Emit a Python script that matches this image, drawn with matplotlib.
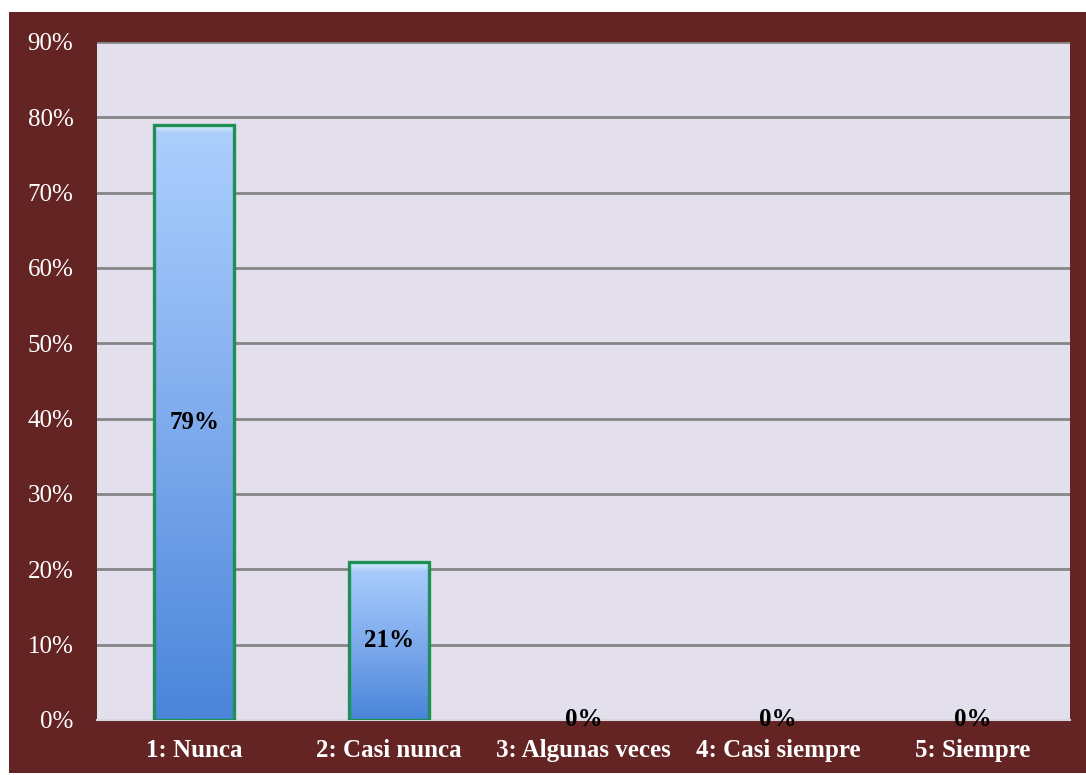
import matplotlib.pyplot as plt
import numpy as np
from matplotlib.patches import Rectangle
from matplotlib.colors import LinearSegmentedColormap

categories = ['1: Nunca', '2: Casi nunca', '3: Algunas veces', '4: Casi siempre', '5: Siempre']
values = [79, 21, 0, 0, 0]
labels = ['79%', '21%', '0%', '0%', '0%']
yticks = [0, 10, 20, 30, 40, 50, 60, 70, 80, 90]

W, H = 1086, 775
fig = plt.figure(figsize=(W / 100, H / 100), dpi=100)
fig.patch.set_facecolor('white')
serif = 'Liberation Serif'

# marco granate
fig.add_artist(Rectangle((9 / W, 2 / H), 1 - 9 / W, (773 - 12) / H,
                         transform=fig.transFigure, facecolor='#632423',
                         edgecolor='none', zorder=-10))

ax = fig.add_axes([97 / W, (H - 720) / H, (1070 - 97) / W, (720 - 42) / H])
ax.set_zorder(5)
ax.set_facecolor('#E4DFEC')
ax.set_xlim(-0.5, len(categories) - 0.5)
ax.set_ylim(0, 90)

for y in yticks[1:]:
    ax.axhline(y, color='#858585', lw=2, zorder=1)

cmap = LinearSegmentedColormap.from_list('azul', ['#4A85D9', '#7CA9EC', '#A6CAFB', '#DDF0FF'])
width = 0.41
x = np.arange(len(categories))
edges = ['#1E8F55' if v > 0 else 'none' for v in values]
bars = ax.bar(x, values, width=width, color='none', edgecolor=edges, lw=2.4, zorder=4)
for b, v in zip(bars, values):
    if v <= 0:
        continue
    x0 = b.get_x()
    g = np.linspace(0, 0.72, 256).reshape(-1, 1)
    top_px = 10 / 7.53  # franja superior brillante
    n_top = max(1, int(256 * top_px / v))
    g[-n_top:] = np.linspace(0.72, 1.0, n_top).reshape(-1, 1)
    im = ax.imshow(g, extent=[x0, x0 + width, 0, v], origin='lower', aspect='auto',
                   cmap=cmap, vmin=0, vmax=1, zorder=3)
    clip = Rectangle((x0, 0), width, v, transform=ax.transData)
    im.set_clip_path(clip)

for xi, v, lab in zip(x, values, labels):
    ax.text(xi, v / 2, lab, ha='center', va='center', fontsize=18, fontweight='bold',
            family=serif, color='black', zorder=6, clip_on=False)

ax.set_xticks(x)
ax.set_xticklabels(categories, fontsize=18, fontweight='bold', family=serif, color='white')
ax.set_yticks(yticks)
ax.set_yticklabels([f'{t}%' for t in yticks], fontsize=18, family=serif, color='white')
ax.tick_params(length=0)
ax.tick_params(axis='x', pad=14)
ax.tick_params(axis='y', pad=17)
for s in ['left', 'right', 'top']:
    ax.spines[s].set_visible(False)
ax.spines['bottom'].set_color('#D9D4E0')
ax.spines['bottom'].set_linewidth(1.5)

fig.savefig('out.png', dpi=100, facecolor='white')
